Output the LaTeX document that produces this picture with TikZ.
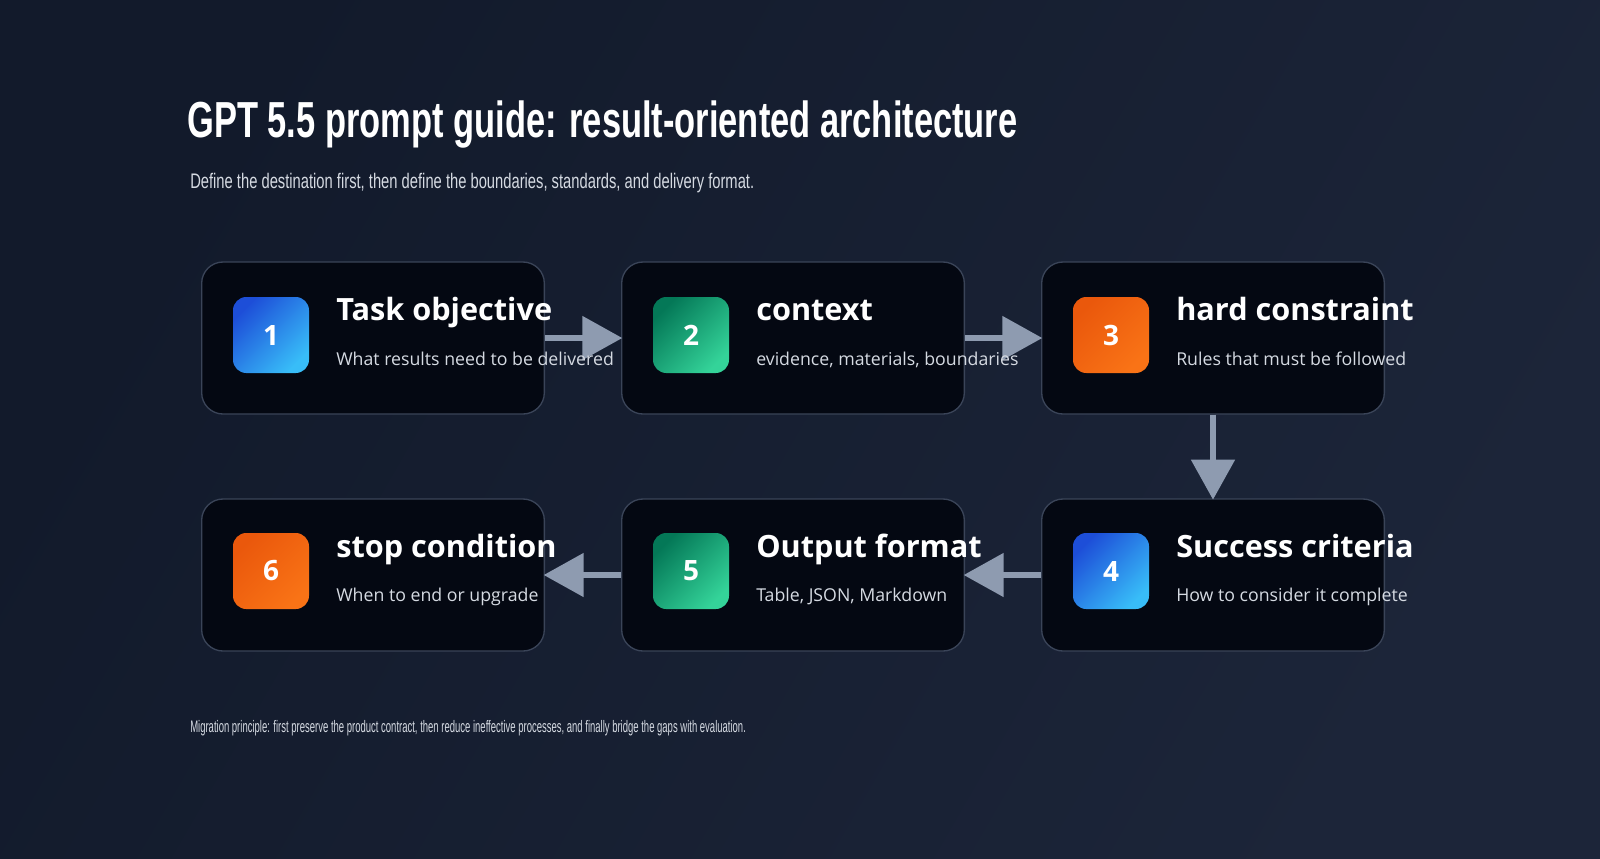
\documentclass[tikz,border=0pt]{standalone}
\usepackage{fontspec}
\setmainfont{Open Sans}
\newfontfamily\narrowf[FakeStretch=0.68]{Liberation Sans}
\newfontfamily\narrows[FakeStretch=0.70]{Liberation Sans}
\newfontfamily\narrowff[FakeStretch=0.57]{Liberation Sans}
\usetikzlibrary{arrows.meta}
\definecolor{bgA}{HTML}{121A2B}
\definecolor{bgB}{HTML}{1C2539}
\definecolor{boxf}{HTML}{040812}
\definecolor{boxd}{HTML}{3A4458}
\definecolor{arr}{HTML}{8E9BB0}
\definecolor{sub}{HTML}{D5DAE2}
\definecolor{blA}{HTML}{1D4ED8}\definecolor{blB}{HTML}{38BDF8}
\definecolor{grA}{HTML}{047857}\definecolor{grB}{HTML}{34D399}
\definecolor{orA}{HTML}{EA580C}\definecolor{orB}{HTML}{F97316}
\begin{document}
\begin{tikzpicture}[x=0.75pt,y=-0.75pt,
  box/.style={draw=boxd,line width=1pt,fill=boxf,rounded corners=16pt,minimum width=257pt,minimum height=114pt,inner sep=0pt},
  icon/.style={rounded corners=10pt,minimum size=57pt,inner sep=0pt,text=white,font=\bfseries\fontsize{21}{24}\selectfont},
  blue/.style={icon,left color=blA,right color=blB,shading angle=45},
  green/.style={icon,left color=grA,right color=grB,shading angle=45},
  orange/.style={icon,left color=orA,right color=orB,shading angle=45},
  ttl/.style={anchor=base west,text=white,font=\bfseries\fontsize{23}{26}\selectfont,inner sep=0pt},
  st/.style={anchor=base west,text=sub,font=\fontsize{13.3}{16}\selectfont,inner sep=0pt},
  conn/.style={arr,line width=4.5pt,-{Triangle[length=30pt,width=32pt]},shorten >=-1pt}]
\useasboundingbox (0,0) rectangle (1600,858);
\shade[left color=bgA,right color=bgB,shading angle=60] (0,0) rectangle (1600,858);
\node[anchor=base west,text=white,inner sep=0pt,font=\narrowf\bfseries\fontsize{38}{44}\selectfont] (title) at (187,137) {GPT 5.5 prompt guide: result-oriented architecture};
\node[anchor=base west,text=sub,inner sep=0pt,font=\narrows\fontsize{15.8}{18}\selectfont] (subt) at (190,188) {Define the destination first, then define the boundaries, standards, and delivery format.};
\node[anchor=base west,text=sub,inner sep=0pt,font=\narrowff\fontsize{12.5}{14}\selectfont] (foot) at (190,732) {Migration principle: first preserve the product contract, then reduce ineffective processes, and finally bridge the gaps with evaluation.};
% boxes
\node[box] (b1) at (373,338) {};
\node[box] (b2) at (793,338) {};
\node[box] (b3) at (1213,338) {};
\node[box] (b6) at (373,575) {};
\node[box] (b5) at (793,575) {};
\node[box] (b4) at (1213,575) {};
% connectors
\draw[conn] (b1.east) -- (b2.west);
\draw[conn] (b2.east) -- (b3.west);
\draw[conn] (b3.south) -- (b4.north);
\draw[conn] (b4.west) -- (b5.east);
\draw[conn] (b5.west) -- (b6.east);
% icons and text
\node[blue] (i1) at (271,335) {1};
\node[green] (i2) at (691,335) {2};
\node[orange] (i3) at (1111,335) {3};
\node[blue] (i4) at (1111,571) {4};
\node[green] (i5) at (691,571) {5};
\node[orange] (i6) at (271,571) {6};
\node[ttl] (t1) at (336,320) {Task objective};
\node[st] (s1) at (336,365) {What results need to be delivered};
\node[ttl] (t2) at (756,320) {context};
\node[st] (s2) at (756,365) {evidence, materials, boundaries};
\node[ttl] (t3) at (1176,320) {hard constraint};
\node[st] (s3) at (1176,365) {Rules that must be followed};
\node[ttl] (t4) at (1176,557) {Success criteria};
\node[st] (s4) at (1176,601) {How to consider it complete};
\node[ttl] (t5) at (756,557) {Output format};
\node[st] (s5) at (756,601) {Table, JSON, Markdown};
\node[ttl] (t6) at (336,557) {stop condition};
\node[st] (s6) at (336,601) {When to end or upgrade};
\end{tikzpicture}
\end{document}
